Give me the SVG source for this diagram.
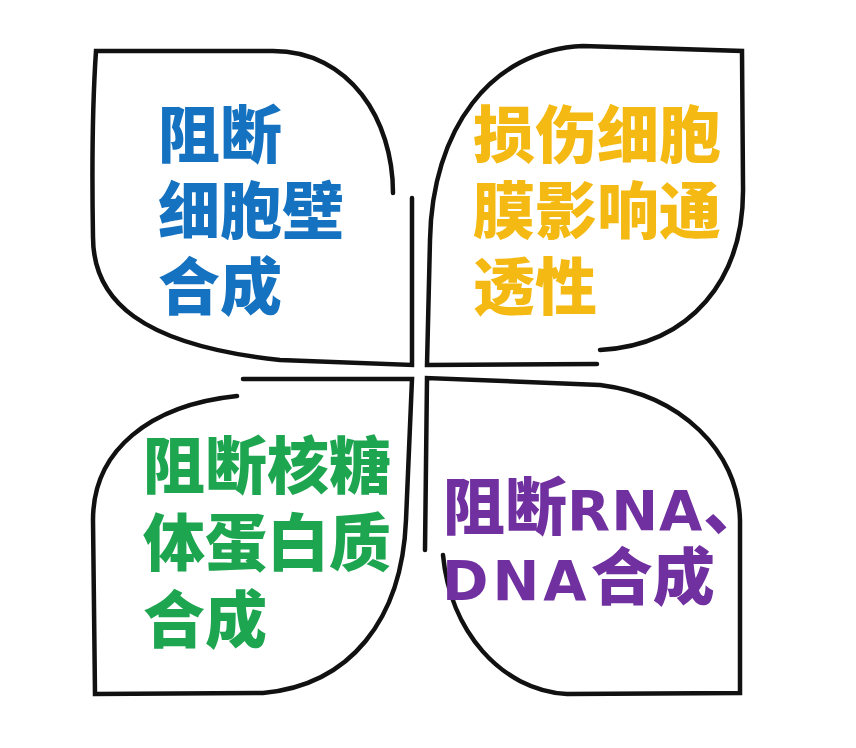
<svg xmlns="http://www.w3.org/2000/svg" width="856" height="748" viewBox="0 0 856 748">
<style>
.leaf{fill:none;stroke:#111;stroke-width:4.5;stroke-linecap:round;stroke-linejoin:miter}
.t{font-family:"Noto Sans CJK SC","Noto Sans",sans-serif;font-weight:900;font-size:62px}
.lat{font-family:"DejaVu Sans",sans-serif;font-weight:700;font-size:56px}
</style>
<rect width="856" height="748" fill="#fff"/>
<g id="leaf-tl">
<path class="leaf" d="M393,193 C393,120 350,51 273,51 L96,51 C92,110 92,180 93,237 C93,300 140,345 280,360 L412,365 L412,198"/>
<text class="t" fill="#1572c0"><tspan x="158" y="158">阻断</tspan><tspan x="158" y="234">细胞壁</tspan><tspan x="158" y="310">合成</tspan></text>
</g>
<g id="leaf-tr">
<path class="leaf" d="M597,364 L427,365 L430,240 C432,130 490,50 583,46 L742,51 L743,185 C745,280 690,345 600,350"/>
<text class="t" fill="#f5b914"><tspan x="473" y="158">损伤细胞</tspan><tspan x="473" y="234">膜影响通</tspan><tspan x="473" y="310">透性</tspan></text>
</g>
<g id="leaf-bl">
<path class="leaf" d="M243,379 L412,379 L406,520 C402,620 350,685 263,693 L95,694 L93,520 C93,450 150,405 237,396"/>
<text class="t" fill="#1ea550"><tspan x="143" y="489">阻断核糖</tspan><tspan x="143" y="566">体蛋白质</tspan><tspan x="143" y="643">合成</tspan></text>
</g>
<g id="leaf-br">
<path class="leaf" d="M425,550 L427,378 L600,385 C680,395 738,450 740,520 L740,693 L567,694 C500,690 450,630 443,555"/>
<text class="t" fill="#7030a0" x="443" y="530">阻断<tspan class="lat" letter-spacing="1">RNA</tspan>、</text>
<text class="t" fill="#7030a0" x="442" y="600"><tspan class="lat" letter-spacing="4">DNA</tspan>合成</text>
</g>
</svg>
